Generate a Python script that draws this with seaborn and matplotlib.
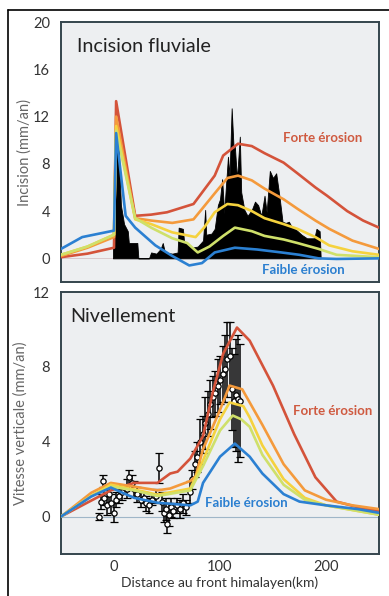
import numpy as np
import pandas as pd
import matplotlib
matplotlib.use("Agg")
import matplotlib.pyplot as plt
import seaborn as sns
from matplotlib.lines import Line2D

# ---------------- data ----------------
models = ["forte", "orange", "jaune", "vert", "faible"]
colors = ["#d4533a", "#f49a3c", "#f5d23e", "#cfe06a", "#2b80d2"]

# Top panel: incision model curves (km, mm/an)
inc_red_x = [-50, -25, 0, 2, 20, 35, 50, 75, 95, 103, 117, 130, 142, 160, 173, 190, 201, 220, 235, 250]
inc_red_y = [0.1, 0.4, 0.9, 13.3, 3.6, 3.7, 3.9, 4.6, 7.0, 8.7, 9.7, 9.5, 8.9, 8.1, 7.2, 6.0, 5.3, 4.0, 3.2, 2.6]
inc_org_x = [-50, -25, 0, 2, 20, 35, 55, 75, 95, 107, 117, 130, 142, 160, 173, 190, 203, 225, 250]
inc_org_y = [0.2, 0.9, 1.8, 12.0, 3.4, 3.2, 3.0, 3.3, 5.5, 6.8, 7.0, 6.6, 5.9, 5.0, 4.2, 3.2, 2.5, 1.5, 0.8]
inc_yel_x = [-50, -25, 0, 2, 20, 35, 55, 77, 85, 95, 107, 117, 130, 142, 160, 173, 190, 203, 225, 250]
inc_yel_y = [0.3, 1.0, 2.0, 11.2, 3.3, 2.9, 2.2, 1.8, 2.6, 3.9, 4.6, 4.5, 4.0, 3.4, 2.9, 2.5, 1.8, 1.1, 0.6, 0.3]
inc_grn_x = [-50, -25, 0, 2, 20, 35, 55, 69, 79, 90, 103, 114, 130, 142, 160, 173, 193, 210, 250]
inc_grn_y = [0.3, 1.0, 2.0, 10.8, 3.4, 2.6, 1.7, 1.3, 0.5, 1.0, 1.9, 2.6, 2.3, 1.9, 1.6, 1.3, 0.8, 0.3, 0.1]
inc_blu_x = [-50, -30, 0, 2, 11, 20, 39, 55, 71, 83, 95, 114, 135, 158, 175, 193, 210, 250]
inc_blu_y = [0.8, 1.8, 2.35, 10.6, 3.6, 2.6, 1.1, 0.2, -0.6, -0.4, 0.5, 0.9, 0.75, 0.5, 0.3, 0.0, -0.05, 0.0]

# Top panel: observed incision profile (black)
obs_km = [-1, -1, 4, 6.5, 9.5, 13, 14, 22, 23, 33, 35, 40, 44, 46, 48, 55, 60, 61, 65, 66, 69, 73,
          79, 84, 86, 87, 92, 95, 98, 100, 102, 104, 105, 107.5, 109, 111, 113, 114, 116, 118.7,
          120, 123, 126, 130, 133, 136, 139, 142, 144, 147, 150, 153, 156, 159, 162, 165, 168,
          172, 177, 182, 189, 191, 194, 195]
obs_inc = [0, 5.0, 10.6, 4.5, 2.9, 2.3, 1.3, 1.3, 0, 0, 0.5, 0.4, 0.8, 1.3, 0.5, 0.4, 0.5, 2.6, 2.5, 1.5, 1.2, 0.9,
           1.0, 1.5, 4.1, 2.0, 2.1, 2.5, 4.5, 5.0, 6.7, 3.8, 5.3, 8.6, 7.0, 12.7, 9.0, 9.5, 6.7, 10.3,
           5.6, 4.1, 3.6, 4.1, 4.8, 4.5, 3.6, 5.3, 3.9, 7.4, 6.8, 7.2, 5.3, 3.1, 3.0, 3.1, 2.6,
           2.4, 2.0, 1.7, 1.7, 2.5, 2.3, 0]

# Bottom panel: uplift model curves
up_red_x = [-50, -25, -3, 19, 41, 53, 60, 72, 84, 93, 103, 116, 128, 150, 170, 190, 210, 230, 250]
up_red_y = [0.0, 0.75, 1.4, 1.8, 1.8, 2.3, 2.4, 3.1, 4.3, 6.6, 8.7, 10.1, 9.4, 7.0, 4.4, 2.1, 0.8, 0.5, 0.3]
up_org_x = [-50, -21.5, -3, 19, 41, 53, 72, 77, 84, 100, 109, 121, 128, 140, 160, 180, 200, 225, 250]
up_org_y = [0.0, 1.27, 1.8, 1.6, 1.4, 1.5, 1.9, 2.15, 3.6, 5.7, 7.0, 6.8, 6.1, 4.9, 2.8, 1.4, 0.9, 0.6, 0.4]
up_yel_x = [-50, -21.5, -3, 19, 41, 72, 84, 100, 109, 122, 128, 140, 160, 180, 200, 250]
up_yel_y = [0.0, 1.1, 1.7, 1.45, 1.17, 1.5, 3.0, 5.2, 6.1, 5.9, 5.3, 3.8, 2.0, 1.0, 0.6, 0.1]
up_grn_x = [-50, -21.5, -3, 19, 41, 72, 84, 100, 112, 120, 128, 140, 160, 180, 200, 250]
up_grn_y = [0.0, 1.1, 1.6, 1.4, 1.1, 1.4, 2.7, 4.6, 5.4, 5.2, 4.8, 3.3, 1.7, 0.9, 0.6, 0.1]
up_blu_x = [-50, -21.5, -3, 19, 41, 72, 79, 84, 100, 114, 128, 140, 160, 175, 200, 230, 250]
up_blu_y = [0.0, 1.07, 1.55, 1.0, 0.74, 0.6, 0.8, 1.8, 3.2, 3.9, 3.2, 2.3, 1.2, 0.8, 0.6, 0.4, 0.2]

# Bottom panel: levelling data
lev_km = [-14, -12, -10, -9, -7, -5, -3, 0, 2, 5, 8, 12, 14, 17, 19, 22, 25, 28, 30, 33, 36, 40, 42,
          45, 47, 49, 50, 52, 54, 56, 59, 62, 65, 68, 72, 74, 76, 78, 81, 84, 86, 89, 91, 93, 95,
          98, 100, 103, 105, 107, 109, 111, 113, 115, 117, 119]
lev_v = [0.0, 0.8, 1.9, 1.0, 0.6, 1.2, 0.7, 0.2, 0.9, 1.1, 1.3, 1.5, 2.1, 1.8, 1.5, 1.2, 0.9, 1.0, 0.7,
         0.6, 0.9, 1.1, 2.6, 0.8, 0.2, 0.4, -0.4, 0.1, 0.5, 0.3, 0.6, 0.4, 0.7, 0.5, 1.3, 2.0, 2.8,
         3.2, 4.0, 4.4, 5.0, 5.5, 6.0, 6.4, 6.6, 7.0, 7.3, 7.6, 7.9, 8.4, 8.6, 6.8, 6.2, 6.5, 6.3, 6.2]
lev_err = [0.2, 0.4, 0.3, 0.4, 0.5, 0.4, 0.5, 0.5, 0.4, 0.4, 0.4, 0.5, 0.4, 0.4, 0.4, 0.4, 0.4, 0.3,
           0.4, 0.4, 0.3, 0.4, 0.8, 0.5, 0.5, 0.6, 0.5, 0.6, 0.5, 0.4, 0.4, 0.5, 0.5, 0.4, 0.6, 0.5,
           0.7, 0.8, 1.2, 1.0, 1.4, 1.2, 1.3, 1.1, 1.2, 1.4, 1.3, 1.5, 1.8, 2.0, 1.8, 2.2, 2.5, 3.0,
           3.4, 3.0]

xticks = [0, 100, 200]
inc_yticks = [0, 4, 8, 12, 16, 20]
up_yticks = [0, 4, 8, 12]


def long_df(series):
    rows = []
    for name, xs, ys in series:
        for i, (a, b) in enumerate(zip(xs, ys)):
            rows.append({"model": name, "km": a, "val": b, "order": i})
    return pd.DataFrame(rows)


top_df = long_df(list(zip(models,
                          [inc_red_x, inc_org_x, inc_yel_x, inc_grn_x, inc_blu_x],
                          [inc_red_y, inc_org_y, inc_yel_y, inc_grn_y, inc_blu_y])))
bot_df = long_df(list(zip(models,
                          [up_red_x, up_org_x, up_yel_x, up_grn_x, up_blu_x],
                          [up_red_y, up_org_y, up_yel_y, up_grn_y, up_blu_y])))

# ---------------- style ----------------
sns.set_theme(style="white")
plt.rcParams["font.family"] = ["Lato", "DejaVu Sans"]

W, H = 389, 596
fig = plt.figure(figsize=(W / 100, H / 100), dpi=100)
fig.patch.set_facecolor("white")

def fx(px):
    return px / W

def fy(py):
    return 1 - py / H

ax1 = fig.add_axes([fx(61), fy(282), fx(379 - 61), (282 - 22) / H])
ax2 = fig.add_axes([fx(61), fy(554), fx(379 - 61), (554 - 292) / H])

# outer frame
fig.add_artist(Line2D([fx(8), fx(389)], [fy(10), fy(10)], color="black", lw=1.2, transform=fig.transFigure))
fig.add_artist(Line2D([fx(8), fx(8)], [fy(10), fy(596)], color="black", lw=1.2, transform=fig.transFigure))

palette = dict(zip(models, colors))
bg = "#edeff1"
spine_c = "#34454d"

for ax in (ax1, ax2):
    ax.set_facecolor(bg)
    for s in ax.spines.values():
        s.set_color(spine_c)
        s.set_linewidth(1.4)
    ax.set_xlim(-50, 250)
    ax.tick_params(axis="both", length=0, labelsize=10.5, labelcolor="#333333")
    ax.tick_params(axis="y", pad=8)
    ax.tick_params(axis="x", pad=4)
    ax.set_xticks(xticks)

# ---- top panel ----
ax1.axhline(0, color="#d9c9cc", lw=0.7, zorder=1)
ax1.fill_between(obs_km, 0, obs_inc, color="black", lw=0.6, edgecolor="black", zorder=2)
sns.lineplot(data=top_df, x="km", y="val", hue="model", palette=palette, sort=False,
             estimator=None, units="model", legend=False, lw=1.9, ax=ax1, zorder=3)
ax1.set_ylim(-2, 20)
ax1.set_yticks(inc_yticks)
ax1.set_xticklabels([])
ax1.set_xlabel("")
ax1.set_ylabel("Incision (mm/an)", fontsize=10.5, color="#666666", labelpad=1)
ax1.text(0.05, 0.905, "Incision fluviale", transform=ax1.transAxes, fontsize=14.2,
         color="#222222", va="center", ha="left")
ax1.text(159, 10.2, "Forte érosion", fontsize=9.5, fontweight="bold", color="#cf5a40",
         ha="left", va="center")
ax1.text(140, -1.0, "Faible érosion", fontsize=9.5, fontweight="bold", color="#2b7fd0",
         ha="left", va="center")

# ---- bottom panel ----
ax2.axhline(0, color="#9fb6c8", lw=0.8, zorder=1)
ax2.errorbar(lev_km, lev_v, yerr=lev_err, fmt="o", ms=3.8, mfc="white", mec="black",
             mew=0.9, ecolor="black", elinewidth=1.1, capsize=2.6, capthick=1.0, zorder=2)
sns.lineplot(data=bot_df, x="km", y="val", hue="model", palette=palette, sort=False,
             estimator=None, units="model", legend=False, lw=1.9, ax=ax2, zorder=3)
ax2.set_ylim(-2, 12)
ax2.set_yticks(up_yticks)
ax2.set_xlabel("Distance au front himalayen(km)", fontsize=10, color="#333333", labelpad=2)
ax2.set_ylabel("Vitesse verticale (mm/an)", fontsize=10.5, color="#666666", labelpad=4)
ax2.text(0.03, 0.905, "Nivellement", transform=ax2.transAxes, fontsize=14.2,
         color="#222222", va="center", ha="left")
ax2.text(169, 5.65, "Forte érosion", fontsize=9.5, fontweight="bold", color="#cf5a40",
         ha="left", va="center")
ax2.text(86, 0.7, "Faible érosion", fontsize=9.5, fontweight="bold", color="#2b7fd0",
         ha="left", va="center")

fig.savefig("out.png", dpi=100, facecolor="white")
